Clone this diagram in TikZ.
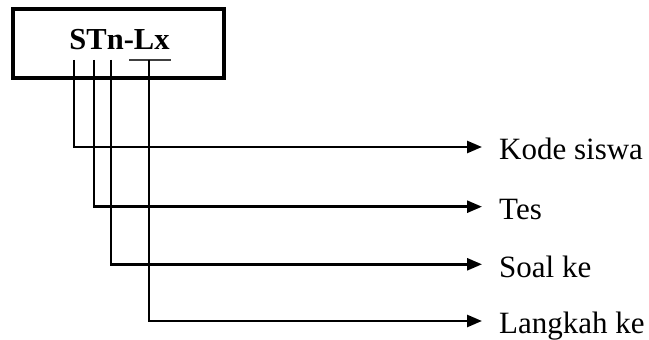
\documentclass[tikz,border=0pt]{standalone}
\usepackage{fontspec}
\setmainfont{Liberation Serif}
\usetikzlibrary{arrows.meta}
\begin{document}
\begin{tikzpicture}[x=1pt,y=1pt,
  frame/.style={draw, line width=3.5pt, minimum width=211pt, minimum height=69pt, inner sep=0pt},
  codetext/.style={font=\fontsize{30.5}{36}\selectfont\bfseries, anchor=base, inner sep=0pt},
  leg/.style={line width=2.6pt, -{Triangle[length=15pt,width=12pt]}},
  lbl/.style={font=\fontsize{31}{36}\selectfont, anchor=base west, inner sep=0pt},
  uline/.style={line width=1.6pt, draw=black!75}]
\useasboundingbox (0,0) rectangle (649,340);
\node[frame] (box) at (118.5,296.5) {};
\node[codetext] (code) at (119.5,290) {STn-Lx};
% leg tops
\coordinate (t1) at (74,280);
\coordinate (t2) at (94,280);
\coordinate (t3) at (111,280);
\coordinate (t4) at (149,280);
\coordinate (u1) at (129,280);
\coordinate (u2) at (171,280);
% arrow ends
\coordinate (e1) at (482,193);
\coordinate (e2) at (482,133.3);
\coordinate (e3) at (482,75.7);
\coordinate (e4) at (482,19);
\draw[uline] (u1) -- (u2);
\draw[leg] (t1) |- (e1);
\draw[leg] (t2) |- (e2);
\draw[leg] (t3) |- (e3);
\draw[leg] (t4) |- (e4);
\node[lbl] (l1) at ([xshift=17pt,yshift=-13pt]e1) {Kode siswa};
\node[lbl] (l2) at ([xshift=17pt,yshift=-13pt]e2) {Tes};
\node[lbl] (l3) at ([xshift=17pt,yshift=-13pt]e3) {Soal ke};
\node[lbl] (l4) at ([xshift=17pt,yshift=-13pt]e4) {Langkah ke};
\end{tikzpicture}
\end{document}
